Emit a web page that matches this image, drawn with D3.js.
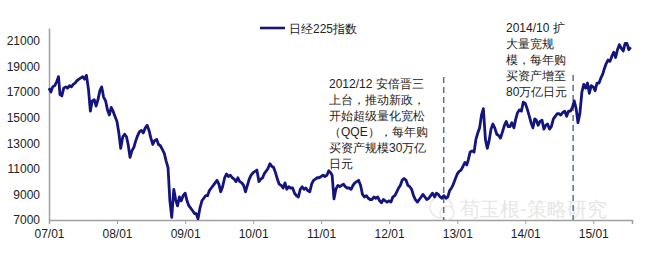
<!DOCTYPE html>
<html>
<head>
<meta charset="utf-8">
<script src="https://cdn.jsdelivr.net/npm/d3@7"></script>
<style>
    body { margin: 0; background: #fff; }
    text { font-family: "Liberation Sans", Arial, sans-serif; }
</style>
</head>
<body>
<script>
// Nikkei 225, three readings per month (1st, 11th, 21st)
var v2007 = [17300, 17000, 17400, 17500, 17800, 18200, 16800, 16700, 17300, 17400, 17300, 17500,
             17400, 17600, 17700, 17900, 18000, 18100, 18200, 18000, 18300, 17200, 15500, 16300,
             16400, 15900, 16400, 17100, 17400, 16600, 16300, 15600, 15200, 15800, 15500, 15100];
var v2008 = [14700, 13800, 12600, 13500, 13700, 13500, 12900, 11900, 12400, 12700, 13200, 13600,
             13900, 14000, 13800, 14200, 14400, 14000, 13400, 12900, 13200, 13300, 12900, 12800,
             12500, 12200, 11600, 11100, 8500, 7200, 9400, 8600, 8100, 8800, 8500, 8900];
var v2009 = [9100, 8500, 8100, 7900, 7700, 7500, 7500, 7100, 7900, 8500, 8700, 8900,
             8900, 9300, 9500, 9700, 9900, 10100, 9800, 9200, 9600, 10300, 10600, 10400,
             10500, 10300, 10200, 10000, 10300, 10000, 9900, 9700, 9200, 9700, 10200, 10500];
var v2010 = [10700, 10800, 10900, 10000, 10200, 10300, 10600, 10800, 11000, 11400, 11200, 11100,
             10700, 10200, 9800, 9700, 9500, 9900, 9400, 9600, 9500, 9500, 9100, 8900,
             8800, 9400, 9600, 9400, 9500, 9300, 9200, 9800, 10100, 10200, 10300, 10300];
var v2011 = [10400, 10500, 10400, 10500, 10850, 10700, 10500, 8650, 9400, 9700, 9600, 9700,
             9800, 9600, 9500, 9500, 9400, 9700, 9900, 10000, 10100, 9700, 9000, 8800,
             8900, 8700, 8600, 8600, 8800, 8700, 8800, 8500, 8350, 8600, 8500, 8400];
var v2012 = [8500, 8400, 8800, 8900, 9200, 9500, 9700, 10100, 10250, 10100, 9700, 9600,
             9400, 8900, 8600, 8400, 8600, 8800, 9000, 8800, 8600, 8700, 8900, 9100,
             8800, 9100, 9000, 8800, 8700, 8900, 8700, 8800, 9300, 9500, 9800, 10200];
var v2013 = [10600, 10800, 10900, 11200, 11500, 11300, 11700, 12300, 12400, 12300, 13300, 13800,
             14200, 15200, 15700, 13300, 12600, 13200, 14100, 14500, 14200, 13700, 13600, 13400,
             13900, 14400, 14700, 14300, 14300, 14600, 14200, 14900, 15400, 15600, 15500, 16200];
var v2014 = [16100, 15700, 15200, 14600, 14200, 14900, 14800, 14400, 14700, 14800, 14100, 14400,
             14500, 14100, 14300, 14900, 15100, 15300, 15300, 15200, 15400, 15500, 15100, 15500,
             15500, 15800, 16300, 15700, 14600, 15300, 17000, 17600, 17300, 17700, 16900, 17500];
var v2015 = [17400, 17100, 17700, 17700, 18100, 18400, 18800, 19200, 19500, 19400, 19800, 20100,
             19700, 20300, 20700, 20400, 20200, 20800, 20800, 20300, 20500];

var years = [2007, 2008, 2009, 2010, 2011, 2012, 2013, 2014, 2015];
var series = [v2007, v2008, v2009, v2010, v2011, v2012, v2013, v2014, v2015];

var yTicks = [7000, 9000, 11000, 13000, 15000, 17000, 19000, 21000];
var seriesName = "日经225指数";

var notes = [
    {date: "2012-10-20", top: 77, x: 329, y: 88, lines: ["2012/12 安倍晋三", "上台，推动新政，", "开始超级量化宽松", "（QQE），每年购", "买资产规模30万亿", "日元"]},
    {date: "2014-09-15", top: 75, x: 506, y: 32, lines: ["2014/10 扩", "大量宽规", "模，每年购", "买资产增至", "80万亿日元"]}
];

var width = 653, height = 253;
var margins = {top: 28, left: 49, right: 21, bottom: 33};

var data = [];
series.forEach(function(vals, k){
    vals.forEach(function(v, i){
        var m = Math.floor(i / 3);
        data.push({date: new Date(years[k], m, 1 + (i % 3) * 10), value: v});
    });
});

var svg = d3.select("body").append("svg")
    .attr("width", width)
    .attr("height", height);

var x = d3.scaleTime()
    .domain([new Date(2007, 0, 1), new Date(2015, 6, 28)])
    .range([margins.left, width - margins.right]);

var y = d3.scaleLinear()
    .domain([7000, 22000])
    .range([height - margins.bottom, margins.top]);

// x axis
var xAxis = d3.axisBottom(x)
    .tickValues(years.map(function(yr){ return new Date(yr, 0, 1); }))
    .tickFormat(d3.timeFormat("%y/%m"))
    .tickSize(4)
    .tickPadding(5);

var gx = svg.append("g")
    .attr("transform", "translate(0," + y(7000) + ")")
    .call(xAxis);
gx.select(".domain").attr("stroke", "#a0a0a0").attr("stroke-width", 1.5);
gx.selectAll(".tick line").attr("stroke", "#a0a0a0");
gx.selectAll(".tick text").attr("font-size", 12).attr("fill", "#222");

// y axis
var yAxis = d3.axisLeft(y)
    .tickValues(yTicks)
    .tickFormat(d3.format("d"))
    .tickSize(0)
    .tickPadding(9);

var gy = svg.append("g")
    .attr("transform", "translate(" + margins.left + ",0)")
    .call(yAxis);
gy.select(".domain").attr("stroke", "#a0a0a0").attr("stroke-width", 1.5);
gy.selectAll(".tick text").attr("font-size", 12).attr("fill", "#222");

// watermark
var wm = svg.append("g").attr("opacity", 0.45);
wm.append("circle").attr("cx", 441).attr("cy", 207).attr("r", 11)
    .attr("fill", "none").attr("stroke", "#d0d0d0").attr("stroke-width", 1.5);
wm.append("circle").attr("cx", 447).attr("cy", 213).attr("r", 7)
    .attr("fill", "#fff").attr("stroke", "#d0d0d0").attr("stroke-width", 1.5);
wm.append("text")
    .attr("x", 460).attr("y", 216)
    .attr("font-size", 20)
    .attr("font-family", "'Noto Sans CJK SC', sans-serif")
    .attr("fill", "#c8c8c8")
    .text("荀玉根-策略研究");

// dashed markers
svg.selectAll(".marker")
    .data(notes)
    .enter().append("line")
    .attr("class", "marker")
    .attr("x1", function(d){ return x(new Date(d.date)); })
    .attr("x2", function(d){ return x(new Date(d.date)); })
    .attr("y1", function(d){ return d.top; })
    .attr("y2", y(7000))
    .attr("stroke", "#5b6f92")
    .attr("stroke-width", 1.5)
    .attr("stroke-dasharray", "6,4");

// series line
var line = d3.line()
    .x(function(d){ return x(d.date); })
    .y(function(d){ return y(d.value); });

svg.append("path")
    .datum(data)
    .attr("fill", "none")
    .attr("stroke", "#14147f")
    .attr("stroke-width", 2.8)
    .attr("stroke-linejoin", "round")
    .attr("d", line);

// annotations
notes.forEach(function(n){
    var t = svg.append("text")
        .attr("font-size", 12)
        .attr("fill", "#222")
        .attr("font-family", "'Liberation Sans', 'Noto Sans CJK SC', sans-serif");
    n.lines.forEach(function(s, i){
        t.append("tspan").attr("x", n.x).attr("y", n.y + i * 16).text(s);
    });
});

// legend
var legend = svg.append("g").attr("transform", "translate(260,28)");
legend.append("line")
    .attr("x1", 0).attr("x2", 25)
    .attr("stroke", "#14147f").attr("stroke-width", 2.6);
legend.append("text")
    .attr("x", 29).attr("y", 4.5)
    .attr("font-size", 12)
    .attr("fill", "#222")
    .attr("font-family", "'Liberation Sans', 'Noto Sans CJK SC', sans-serif")
    .text(seriesName);
</script>
</body>
</html>
